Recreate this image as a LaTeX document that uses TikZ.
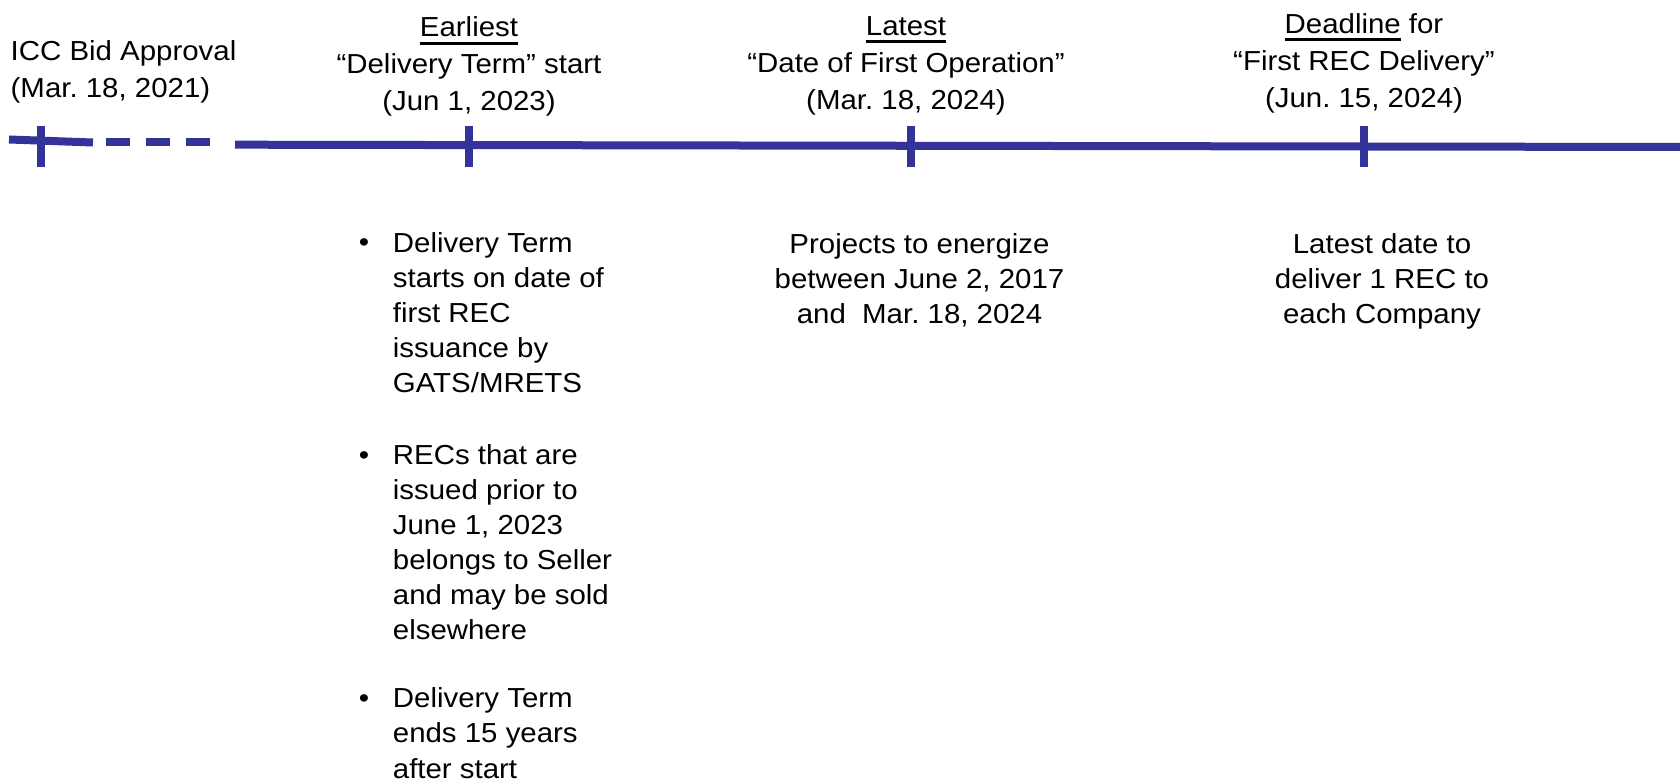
\documentclass[tikz,border=0pt]{standalone}
\usepackage{fontspec}
\setmainfont[FakeStretch=1.07]{Liberation Sans}
\definecolor{tl}{HTML}{333399}
\frenchspacing
\newcommand\myul[1]{\setbox0\hbox{#1}\rlap{\vrule width\wd0 height -5pt depth 8pt}#1}
\newcommand\topstrut{\vrule width 0pt height 24.5pt depth 0pt}
\begin{document}
\begin{tikzpicture}[x=1pt,y=-1pt,
  head/.style={inner sep=0pt, font=\fontsize{27.5}{37}\selectfont\frenchspacing, align=center, anchor=north},
  headl/.style={inner sep=0pt, font=\fontsize{27.5}{37}\selectfont\frenchspacing, align=left, anchor=north west},
  body/.style={inner sep=0pt, font=\fontsize{27.5}{35}\selectfont\frenchspacing, align=center, anchor=north},
  blist/.style={inner sep=0pt, font=\fontsize{27.5}{35}\selectfont\frenchspacing, align=left, anchor=north west},
  bul/.style={inner sep=0pt, font=\fontsize{27.5}{35}\selectfont, anchor=base},
  tline/.style={draw=tl, line width=8pt},
]
\useasboundingbox (0,0) rectangle (1680,783);

% timeline
\coordinate (s0) at (9,139.5);
\coordinate (s1) at (93,142.5);
\coordinate (d0) at (106,142);
\coordinate (d1) at (210,142);
\coordinate (m0) at (235,144.7);
\coordinate (m1) at (1680,147);
\draw[tline] (s0) -- (s1);
\draw[tline, dash pattern=on 24pt off 16pt] (d0) -- (d1);
\draw[tline] (m0) -- (m1);
\foreach \n/\x in {t1/41, t2/469, t3/911, t4/1363.5}{
  \coordinate (\n a) at (\x,126);
  \coordinate (\n b) at (\x,167);
  \draw[tline] (\n a) -- (\n b);
}

% headings
\node[headl] (icc) at (10.5,34.1) {\strut ICC Bid Approval\\\strut (Mar. 18, 2021)};
\node[head] (earliest) at (469,10.8) {\strut\myul{Earliest}\\\strut “Delivery Term” start\\\strut (Jun 1, 2023)};
\node[head] (latest) at (906,9.1) {\strut\myul{Latest}\\\strut “Date of First Operation”\\\strut (Mar. 18, 2024)};
\node[head] (deadline) at (1364,7.1) {\strut\myul{Deadline} for\\\strut “First REC Delivery”\\\strut (Jun. 15, 2024)};

% bullets
\node[bul] (b1) at (364,252) {•};
\node[bul] (b2) at (364,464) {•};
\node[bul] (b3) at (364,707) {•};
\node[blist] (p1) at (392.7,227.5) {\strut Delivery Term\\\strut starts on date of\\\strut first REC\\\strut issuance by\\\strut GATS/MRETS};
\node[blist] (p2) at (392.7,439.5) {\strut RECs that are\\\strut issued prior to\\\strut June 1, 2023\\\strut belongs to Seller\\\strut and may be sold\\\strut elsewhere};
\node[blist] (p3) at (392.7,682.5) {\strut Delivery Term\\\strut ends 15 years\\\topstrut after start};

% descriptions
\node[body] (proj) at (919.5,228.5) {\strut Projects to energize\\\strut between June 2, 2017\\\strut and\ \ Mar. 18, 2024};
\node[body] (rec) at (1382,228.5) {\strut Latest date to\\\strut deliver 1 REC to\\\strut each Company};
\end{tikzpicture}
\end{document}
